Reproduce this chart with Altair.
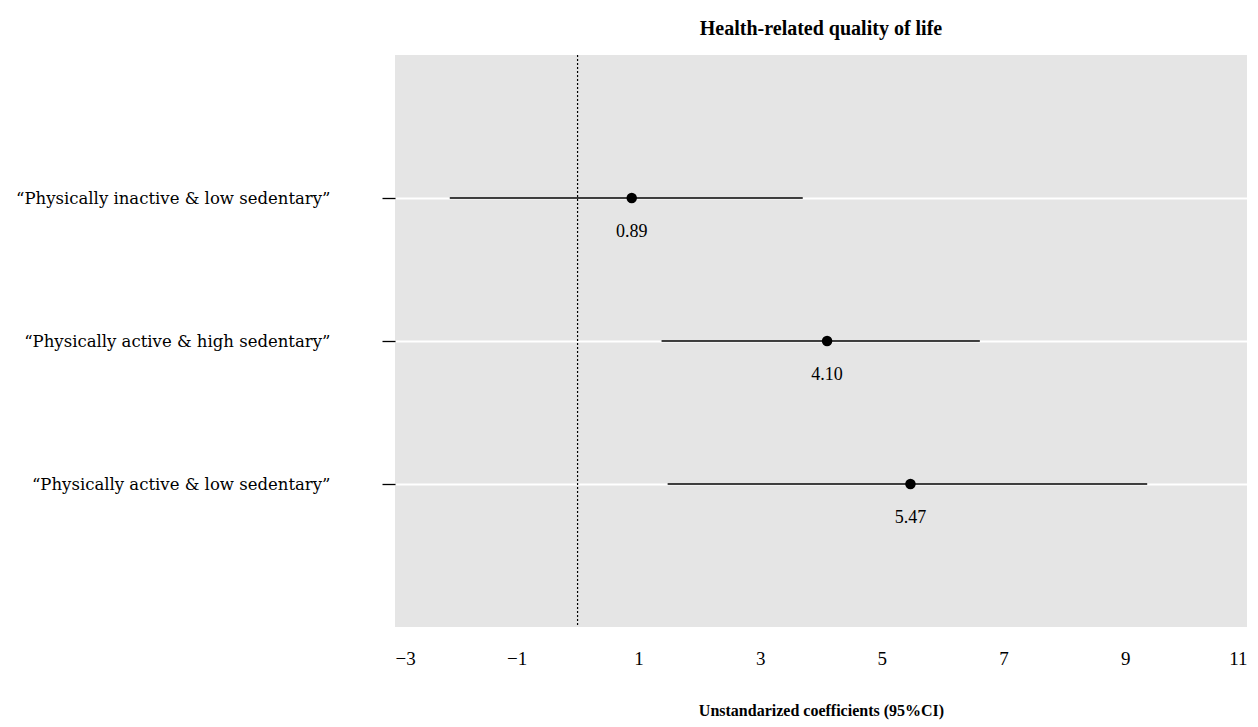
import altair as alt
import pandas as pd

groups = ["\u201cPhysically inactive & low sedentary\u201d",
          "\u201cPhysically active & high sedentary\u201d",
          "\u201cPhysically active & low sedentary\u201d"]
estimates = [0.89, 4.10, 5.47]
lower = [-2.10, 1.38, 1.48]
upper = [3.70, 6.61, 9.36]
labels = ["0.89", "4.10", "5.47"]
x_ticks = [-3, -1, 1, 3, 5, 7, 9, 11]

df = pd.DataFrame({"group": groups, "est": estimates, "lo": lower, "hi": upper, "lab": labels})
ref = pd.DataFrame({"x": [0]})

SERIF = "Times New Roman, Liberation Serif, serif"
W, H = 852, 572
xscale = alt.Scale(domain=[-3, 11], nice=False, zero=False)
yscale = alt.Scale(type="point", domain=groups, padding=1)

base = alt.Chart(df)

ci = base.mark_rule(color="black", strokeWidth=1.3).encode(
    x=alt.X("lo:Q", scale=xscale,
            axis=alt.Axis(values=x_ticks, grid=False, ticks=False, domain=False, format="d",
                          labelFont=SERIF, labelFontSize=19, labelColor="black",
                          labelPadding=22,
                          title="Unstandarized coefficients (95%CI)",
                          titleFont=SERIF, titleFontSize=16, titleFontWeight="bold",
                          titleColor="black", titlePadding=34)),
    x2="hi:Q",
    y=alt.Y("group:N", scale=yscale, sort=groups,
            axis=alt.Axis(grid=True, gridColor="white", gridWidth=2, domain=False,
                          ticks=True, tickSize=13, tickColor="black", tickWidth=1.3,
                          labelFont="DejaVu Serif", labelFontSize=16.5, labelColor="black",
                          labelLimit=0, labelPadding=52, title=None)),
)

zero = alt.Chart(ref).mark_rule(color="black", strokeDash=[2, 2], strokeWidth=1.2).encode(
    x=alt.X("x:Q", scale=xscale)
)

pts = base.mark_circle(color="black", size=110, opacity=1).encode(
    x=alt.X("est:Q", scale=xscale),
    y=alt.Y("group:N", scale=yscale, sort=groups),
)

txt = base.mark_text(font=SERIF, fontSize=18, color="black", dy=34).encode(
    x=alt.X("est:Q", scale=xscale),
    y=alt.Y("group:N", scale=yscale, sort=groups),
    text="lab:N",
)

chart = alt.layer(ci, zero, pts, txt).properties(
    width=W, height=H,
    title=alt.TitleParams("Health-related quality of life", font=SERIF,
                          fontSize=20, fontWeight="bold", color="black", offset=15,
                          anchor="middle"),
    autosize=alt.AutoSizeParams(type="none"),
    padding={"left": 387, "top": 47, "right": 3, "bottom": 96},
).configure(background="white").configure_view(fill="#e5e5e5", stroke=None)

chart.save("out.html", embed_options={"renderer": "svg", "actions": False})
